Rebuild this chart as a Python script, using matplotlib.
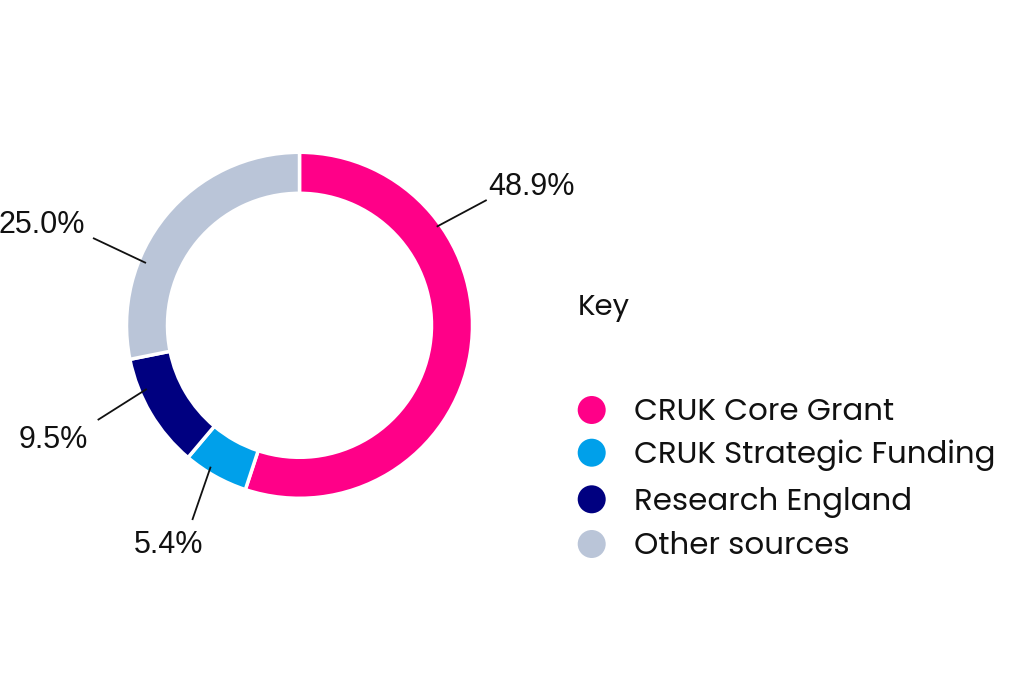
import matplotlib
matplotlib.use("Agg")
import matplotlib.pyplot as plt

# ---- data ----
categories = ["CRUK Core Grant", "CRUK Strategic Funding", "Research England", "Other sources"]
values = [48.9, 5.4, 9.5, 25.0]
value_labels = ["48.9%", "5.4%", "9.5%", "25.0%"]
colors = ["#FF0088", "#00A0EA", "#000080", "#BAC5D8"]
legend_title = "Key"

# ---- layout (pixel coordinates, y measured from top) ----
W, H = 1024, 683
cx, cy = 299.5, 325.3
r_out, ring_w = 173, 41
# leader line: (start x, start y, end x, end y), label baseline-left (x, y)
leaders = [
    (436.7, 226.7, 486.7, 200.0),
    (210.7, 466.7, 192.3, 520.0),
    (146.7, 389.0, 97.7, 420.0),
    (146.0, 263.0, 93.0, 238.0),
]
label_pos = [(488, 195), (134, 553), (19, 448), (-1, 233)]

fig = plt.figure(figsize=(W / 100, H / 100), dpi=100)
ax = fig.add_axes([0, 0, 1, 1])

ax.pie(values, colors=colors, startangle=90, counterclock=False,
       radius=r_out, center=(cx, H - cy),
       wedgeprops=dict(width=ring_w, edgecolor="white", linewidth=2.5))
ax.set_xlim(0, W)
ax.set_ylim(0, H)
ax.set_aspect("equal")
ax.axis("off")

lab_font = ["Liberation Sans", "DejaVu Sans"]
for (x0, y0, x1, y1), (tx, ty), lab in zip(leaders, label_pos, value_labels):
    ax.plot([x0, x1], [H - y0, H - y1], color="#111111", lw=1.3, solid_capstyle="butt")
    ax.text(tx, H - ty, lab, ha="left", va="baseline", fontsize=22,
            family=lab_font, color="#111111")

leg_font = ["Poppins", "Inter", "DejaVu Sans"]
ax.text(578, H - 315, legend_title, ha="left", va="baseline", fontsize=21,
        family=leg_font, color="#111111")
marker_y = [410, 452.7, 499.3, 544]
text_base = [420, 463.3, 510, 554]
for c, name, my, tb in zip(colors, categories, marker_y, text_base):
    ax.scatter([591.7], [H - my], s=(28 * 0.72) ** 2, color=c, edgecolors="none")
    ax.text(634, H - tb, name, ha="left", va="baseline", fontsize=22.2,
            family=leg_font, color="#111111")

fig.savefig("out.png", dpi=100, facecolor="white")
